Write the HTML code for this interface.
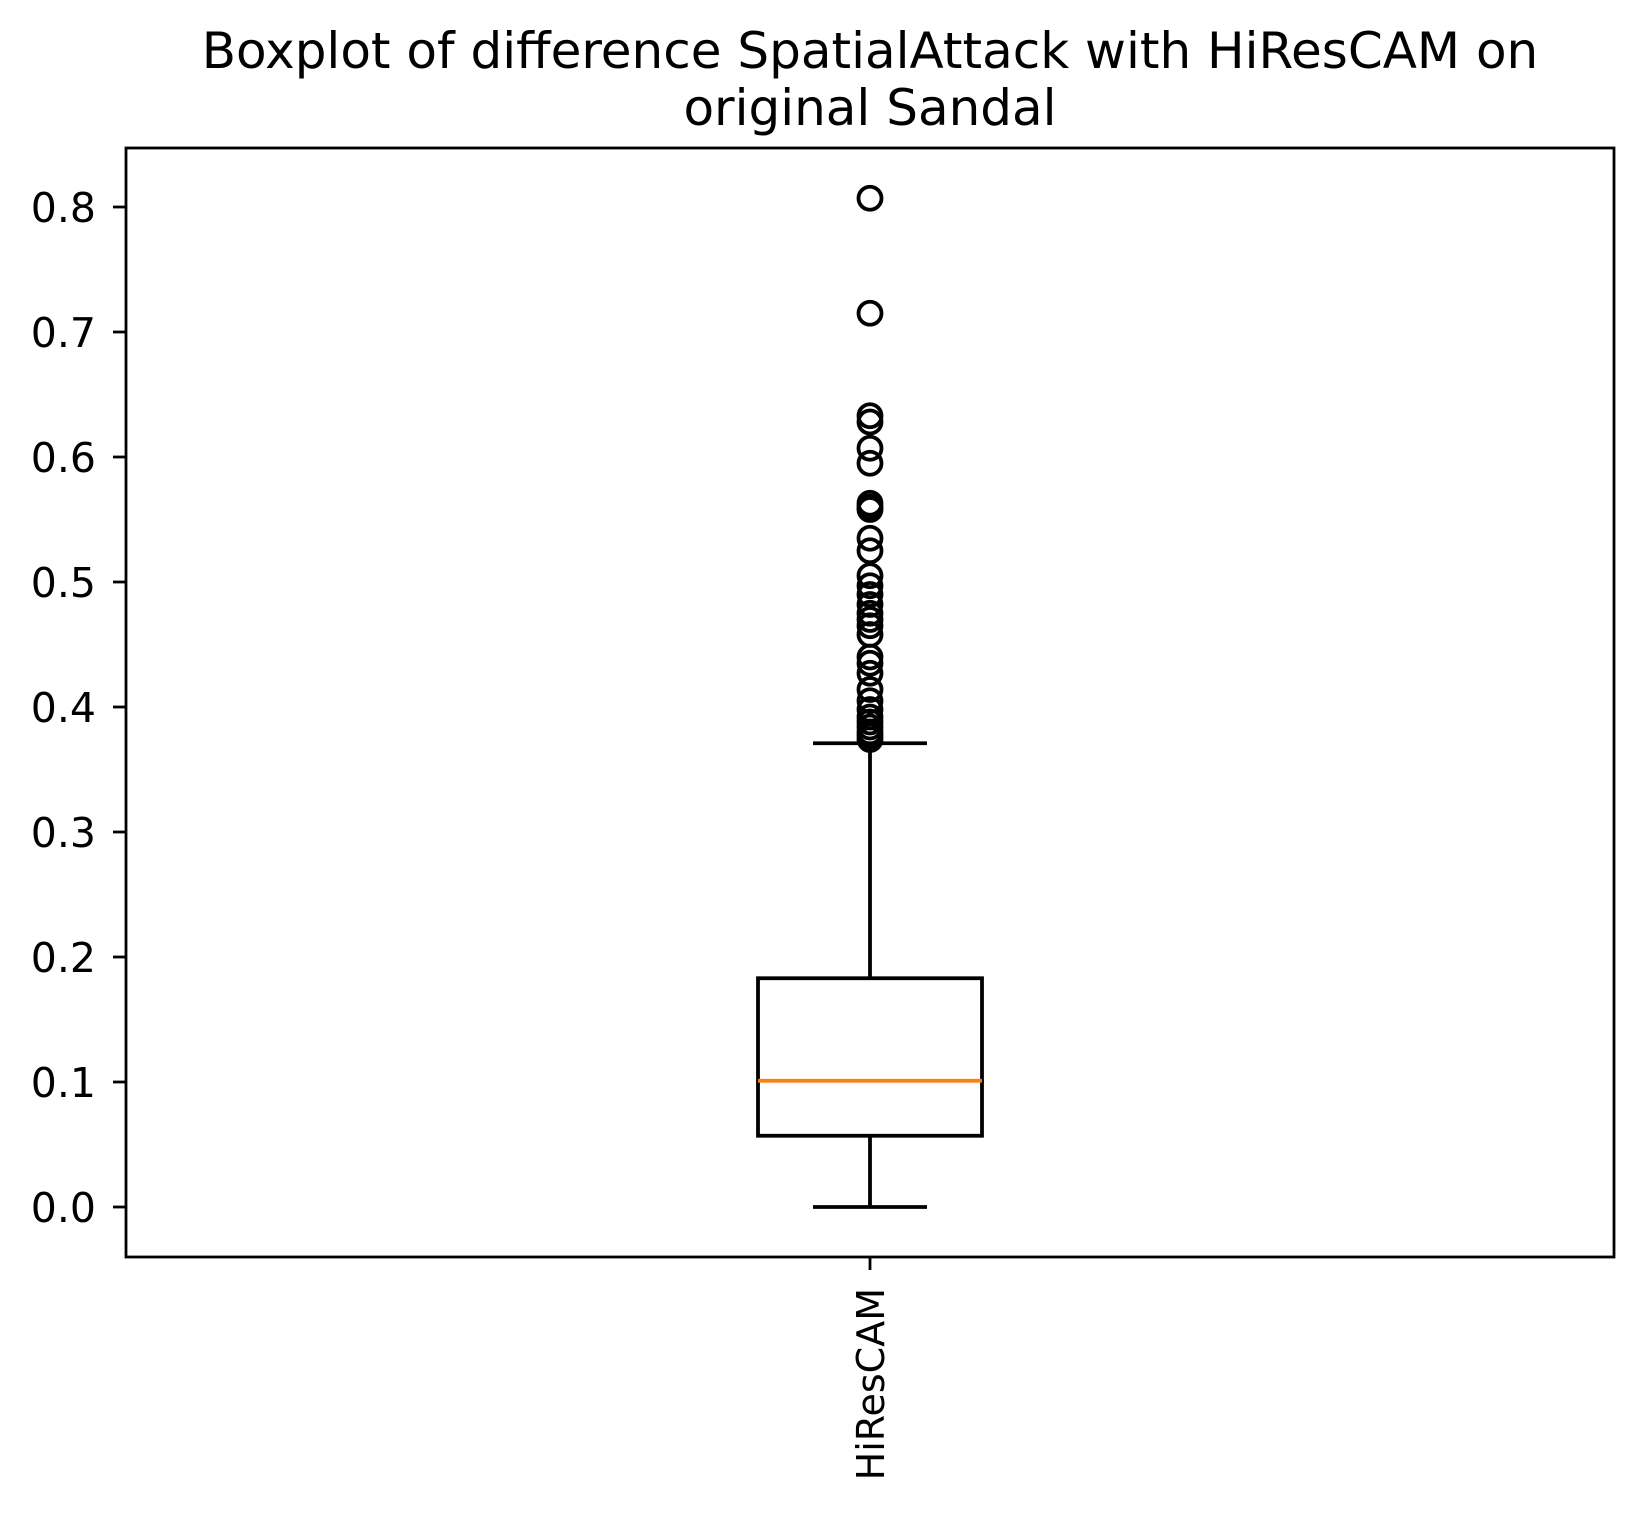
<!DOCTYPE html>
<html><head><meta charset="utf-8"><style>
html,body{margin:0;padding:0;background:#fff}
svg text{font-family:"DejaVu Sans","Liberation Sans",sans-serif;fill:#000}
</style></head><body>
<svg id="chart" width="1643" height="1527" xmlns="http://www.w3.org/2000/svg">
<text x="870" y="68" font-size="50" text-anchor="middle">Boxplot of difference SpatialAttack with HiResCAM on</text>
<text x="870" y="125" font-size="50" text-anchor="middle">original Sandal</text>
<g id="plot"></g>
<rect x="126" y="148" width="1488" height="1109" fill="none" stroke="#000" stroke-width="2.8"/>
</svg>
<script>
const yTicks = [0.0, 0.1, 0.2, 0.3, 0.4, 0.5, 0.6, 0.7, 0.8];
const categories = ["HiResCAM"];
const q1 = [0.057];
const median = [0.101];
const q3 = [0.183];
const whiskerLow = [0.0];
const whiskerHigh = [0.371];
const outliers = [0.807,0.715,0.633,0.628,0.607,0.595,0.563,0.560,0.558,0.535,0.525,0.505,0.497,0.490,0.482,0.475,0.470,0.465,0.458,0.440,0.435,0.427,0.414,0.405,0.398,0.392,0.388,0.384,0.380,0.377,0.374];

const NS = "http://www.w3.org/2000/svg";
const g = document.getElementById('plot');
function y(v){ return 1207 - v*1250; }
function x(i){ return 870 + i*0; }
function mk(tag, attrs){ const e=document.createElementNS(NS,tag); for(const k in attrs) e.setAttribute(k,attrs[k]); g.appendChild(e); return e; }

yTicks.forEach(t=>{
  const tk = mk('line',{x1:113,x2:126,y1:y(t),y2:y(t),stroke:'#000','stroke-width':2.8});
  
  
  const lb = mk('text',{x:96,y:y(t)+15,'font-size':41,'text-anchor':'end'});
  lb.textContent = t.toFixed(1);
  
  
});

categories.forEach((c,i)=>{
  const cx = x(i);
  const hw = 112, cw = 57;
  const w1 = mk('line',{x1:cx,x2:cx,y1:y(q1[i]),y2:y(whiskerLow[i]),stroke:'#000','stroke-width':3.8});
  
  
  const w2 = mk('line',{x1:cx,x2:cx,y1:y(q3[i]),y2:y(whiskerHigh[i]),stroke:'#000','stroke-width':3.8});
  
  
  const c1 = mk('line',{x1:cx-cw,x2:cx+cw,y1:y(whiskerLow[i]),y2:y(whiskerLow[i]),stroke:'#000','stroke-width':3.8});
  
  
  const c2 = mk('line',{x1:cx-cw,x2:cx+cw,y1:y(whiskerHigh[i]),y2:y(whiskerHigh[i]),stroke:'#000','stroke-width':3.8});
  
  
  const bx = mk('rect',{x:cx-hw,y:y(q3[i]),width:2*hw,height:y(q1[i])-y(q3[i]),fill:'none',stroke:'#000','stroke-width':3.8});
  
  
  const md = mk('line',{x1:cx-hw,x2:cx+hw,y1:y(median[i]),y2:y(median[i]),stroke:'#ff7f0e','stroke-width':3.8});
  
  
  outliers.forEach(v=>{
    const o = mk('circle',{cx:cx,cy:y(v),r:11.5,fill:'none',stroke:'#000','stroke-width':3.8});
    
    
  });
  const xt = mk('line',{x1:cx,x2:cx,y1:1257,y2:1270,stroke:'#000','stroke-width':2.8});
  
  
  const xl = mk('text',{x:0,y:0,'font-size':38,'text-anchor':'end',transform:`translate(${cx+14},1288) rotate(-90)`});
  xl.textContent = c;
  
  
});
</script>
</body></html>
